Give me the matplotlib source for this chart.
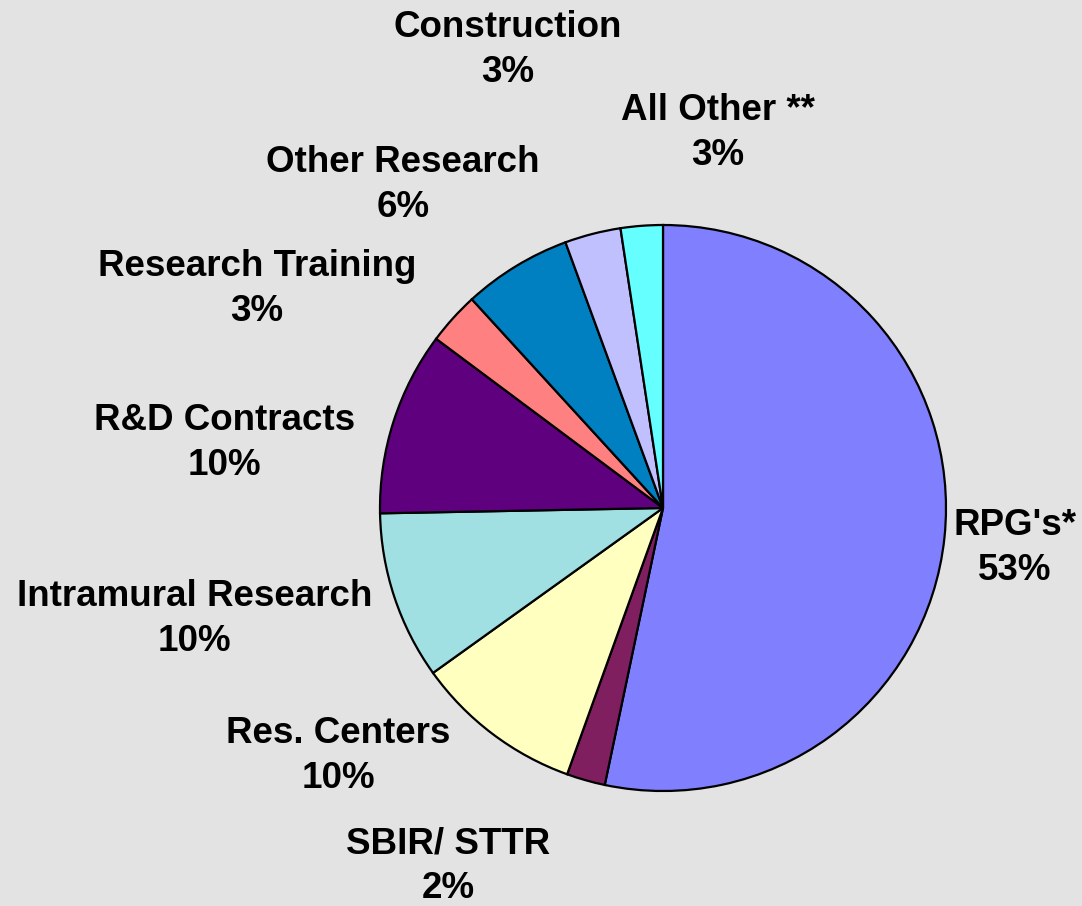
import matplotlib
matplotlib.use("Agg")
import matplotlib.pyplot as plt

categories = ["RPG's*", "SBIR/ STTR", "Res. Centers", "Intramural Research",
              "R&D Contracts", "Research Training", "Other Research",
              "Construction", "All Other **"]
values = [53.3, 2.2, 9.6, 9.6, 10.5, 3.0, 6.2, 3.2, 2.4]
pct_labels = ["53%", "2%", "10%", "10%", "10%", "3%", "6%", "3%", "3%"]
colors = ["#8080FF", "#7F1F5F", "#FFFFC0", "#A0E0E3", "#5F007F",
          "#FF8080", "#0080C0", "#C0C0FF", "#66FFFF"]
# label centre positions (in pie-radius units)
label_pos = [(1.244, -0.141), (-0.760, -1.265), (-1.148, -0.876),
             (-1.654, -0.392), (-1.551, 0.230), (-1.435, 0.774),
             (-0.919, 1.141), (-0.548, 1.618), (0.194, 1.325)]

bg = "#E3E3E3"
fig = plt.figure(figsize=(10.82, 9.06), dpi=100, facecolor=bg)
ax = fig.add_axes([0, 0, 1, 1])
ax.set_facecolor(bg)
ax.pie(values, colors=colors, startangle=90, counterclock=False,
       radius=1.0, center=(0, 0),
       wedgeprops=dict(edgecolor="black", linewidth=1.6))
ax.set_xlim(-663 / 283, (1082 - 663) / 283)
ax.set_ylim(-(906 - 508) / 283, 508 / 283)
ax.set_aspect("auto")
ax.axis("off")

for cat, pct, (x, y) in zip(categories, pct_labels, label_pos):
    ax.text(x, y, f"{cat}\n{pct}", ha="center", va="center",
            fontsize=26.5, fontweight="bold", family=["Liberation Sans", "DejaVu Sans"],
            linespacing=1.35, color="black")

fig.savefig("out.png", dpi=100, facecolor=bg)
